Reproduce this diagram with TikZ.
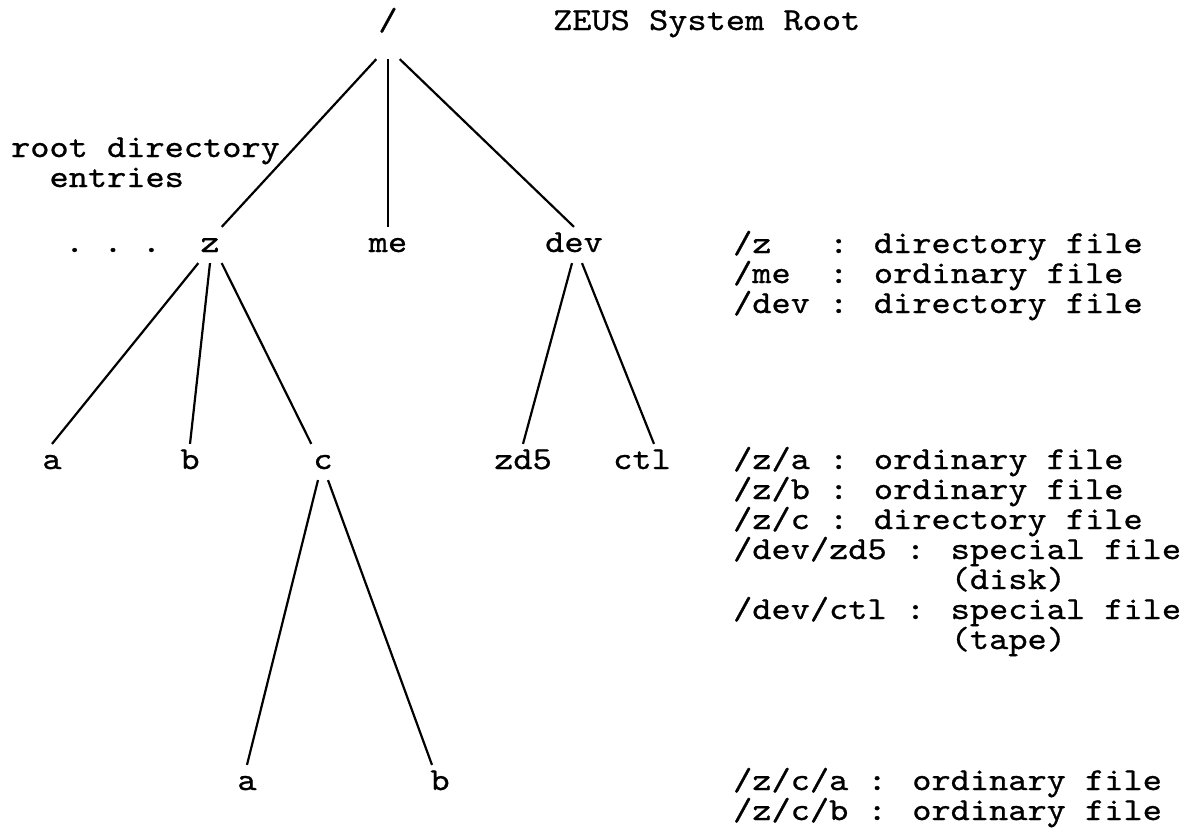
\documentclass[tikz,border=0pt]{standalone}
\usepackage{fontspec}
\newfontfamily\zfam{lmmono10-regular.otf}[FakeBold=0.8,FakeStretch=1.143]
\newcommand\zfont{\zfam\fontsize{16pt}{15pt}\selectfont\lineskiplimit=-100pt\relax}
\begin{document}
\begin{tikzpicture}[x=0.5pt,y=-0.5pt,
      line width=1.1pt,
      tn/.style={font=\zfont,anchor=base,inner xsep=0.5pt,inner ysep=3pt,
        text height=9pt,text depth=2pt},
      txt/.style={font=\zfont,anchor=base west,inner sep=0pt,align=left} ]
      \useasboundingbox (0,0) rectangle (1192,827);

      % tree
      \node[tn,text depth=11pt] (root) at (388,30) {/};
      \node[tn] (z) at (210,252) {z};
      \node[tn] (me) at (388,252) {me};
      \node[tn] (dev) at (574,252) {dev};
      \node[tn] (dots) at (113,252) {.\ .\ .};

      \node[tn] (a) at (52,469) {a};
      \node[tn] (b) at (190,469) {b};
      \node[tn] (c) at (323,469) {c};
      \node[tn] (zd5) at (523,469) {zd5};
      \node[tn] (ctl) at (642,469) {ctl};

      \node[tn] (ca) at (247,790) {a};
      \node[tn] (cb) at (440,790) {b};

      % branches
      \draw (root.south west) -- (z.north east);
      \draw (root.south) -- (me.north);
      \draw (root.south east) -- (dev.north);

      \draw (z.south west) -- (a.north);
      \draw (z.south) -- (b.north);
      \draw (z.south east) -- (c.north west);

      \draw ([xshift=-1pt]dev.south) -- (zd5.north);
      \draw ([xshift=4pt]dev.south) -- ([xshift=6pt]ctl.north);

      \draw ([xshift=-2.5pt]c.south) -- (ca.north);
      \draw ([xshift=2.5pt]c.south) -- ([xshift=-4pt]cb.north);

      % labels (anchored at the baseline of the last line)
      \node[txt] (title) at (552,30) {ZEUS System Root};
      \node[txt] (rootdir) at (10,187) {root directory\\\phantom{ro}entries};

      \node[txt] (rootlist) at (732,313)
        {/z\ \ \ : directory file\\/me\ \ : ordinary file\\/dev : directory file};
      \node[txt] (filelist) at (732,649)
        {/z/a : ordinary file\\/z/b : ordinary file\\/z/c : directory file\\
         /dev/zd5 : special file\\\phantom{/dev/zd5 : }(disk)\\
         /dev/ctl : special file\\\phantom{/dev/ctl : }(tape)};
      \node[txt] (clist) at (732,820)
        {/z/c/a : ordinary file\\/z/c/b : ordinary file};
\end{tikzpicture}
\end{document}
